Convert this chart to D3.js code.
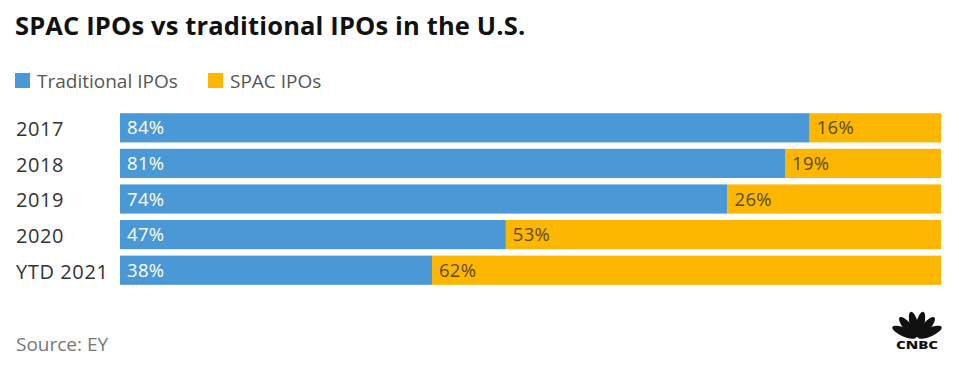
<!DOCTYPE html>
<html>
<head>
<meta charset="utf-8">
<script src="https://cdn.jsdelivr.net/npm/d3@7"></script>
<style>
  body { margin: 0; background: #fff; }
  text { font-family: "Open Sans", sans-serif; }
</style>
</head>
<body>
<svg width="959" height="365"></svg>
<script>
// data
var years = ["2017", "2018", "2019", "2020", "YTD 2021"];
var traditional = [84, 81, 74, 47, 38];
var spac = [16, 19, 26, 53, 62];
var seriesNames = ["Traditional IPOs", "SPAC IPOs"];

var colors = ["#4a98d6", "#fdb700"];

var svg = d3.select("svg"),
    margin = {top: 110, right: 18, bottom: 80, left: 120},
    width = +svg.attr("width") - margin.left - margin.right,
    height = +svg.attr("height") - margin.top - margin.bottom;

// titel
svg.append("text")
    .attr("x", 15)
    .attr("y", 35)
    .attr("font-size", 25.5)
    .attr("font-weight", "bold")
    .attr("letter-spacing", 0.15)
    .attr("fill", "#111")
    .text("SPAC IPOs vs traditional IPOs in the U.S.");

// legenda
var legendX = [15, 208];
seriesNames.forEach(function(name, i) {
  var lg = svg.append("g").attr("transform", "translate(" + legendX[i] + ",73)");
  lg.append("rect").attr("width", 15).attr("height", 15).attr("fill", colors[i]);
  lg.append("text")
      .attr("x", 22)
      .attr("y", 15)
      .attr("font-size", 19)
      .attr("fill", "#555")
      .text(name);
});

var x = d3.scaleLinear().domain([0, 100]).range([0, width]),
    y = d3.scaleBand().domain(years).range([0, 178]).paddingInner(0.18).paddingOuter(0.09);

var g = svg.append("g")
    .attr("transform", "translate(" + margin.left + "," + margin.top + ")");

var rows = years.map(function(d, i) {
  return {year: d, trad: traditional[i], spac: spac[i]};
});

// jaartallen
g.selectAll(".year")
  .data(rows)
  .enter().append("text")
    .attr("class", "year")
    .attr("x", -104)
    .attr("y", function(d) { return y(d.year) + y.bandwidth() / 2; })
    .attr("dy", "0.42em")
    .attr("font-size", 20)
    .attr("letter-spacing", 0.6)
    .attr("fill", "#333")
    .text(function(d) { return d.year; });

// blauwe bars
g.selectAll(".bar-trad")
  .data(rows)
  .enter().append("rect")
    .attr("class", "bar-trad")
    .attr("x", x(0))
    .attr("y", function(d) { return y(d.year); })
    .attr("width", function(d) { return x(d.trad); })
    .attr("height", y.bandwidth())
    .attr("fill", colors[0]);

// gele bars
g.selectAll(".bar-spac")
  .data(rows)
  .enter().append("rect")
    .attr("class", "bar-spac")
    .attr("x", function(d) { return x(d.trad); })
    .attr("y", function(d) { return y(d.year); })
    .attr("width", function(d) { return x(d.spac); })
    .attr("height", y.bandwidth())
    .attr("fill", colors[1]);

// labels
g.selectAll(".lab-trad")
  .data(rows)
  .enter().append("text")
    .attr("class", "lab-trad")
    .attr("x", x(0) + 7)
    .attr("y", function(d) { return y(d.year) + y.bandwidth() / 2; })
    .attr("dy", "0.36em")
    .attr("font-size", 18.5)
    .attr("letter-spacing", 0.3)
    .attr("fill", "#fff")
    .text(function(d) { return d.trad + "%"; });

g.selectAll(".lab-spac")
  .data(rows)
  .enter().append("text")
    .attr("class", "lab-spac")
    .attr("x", function(d) { return x(d.trad) + 7; })
    .attr("y", function(d) { return y(d.year) + y.bandwidth() / 2; })
    .attr("dy", "0.36em")
    .attr("font-size", 18.5)
    .attr("letter-spacing", 0.3)
    .attr("fill", "#5e4b06")
    .text(function(d) { return d.spac + "%"; });

// bron
svg.append("text")
    .attr("x", 16)
    .attr("y", 351)
    .attr("font-size", 19)
    .attr("fill", "#777")
    .text("Source: EY");

// CNBC logo (simpel)
var logo = svg.append("g").attr("transform", "translate(917,338)");
[-66, -40, -13, 13, 40, 66].forEach(function(a) {
  logo.append("ellipse")
      .attr("cx", 0).attr("cy", -14)
      .attr("rx", 4.2).attr("ry", 13)
      .attr("fill", "#111")
      .attr("transform", "rotate(" + a + ",0,0)");
});
logo.append("text")
    .attr("x", 0)
    .attr("y", 11)
    .attr("text-anchor", "middle")
    .attr("font-size", 10)
    .attr("font-weight", "900")
    .attr("font-family", "'DejaVu Sans', sans-serif")
    .attr("fill", "#111")
    .attr("textLength", 42)
    .attr("lengthAdjust", "spacingAndGlyphs")
    .text("CNBC");
</script>
</body>
</html>
